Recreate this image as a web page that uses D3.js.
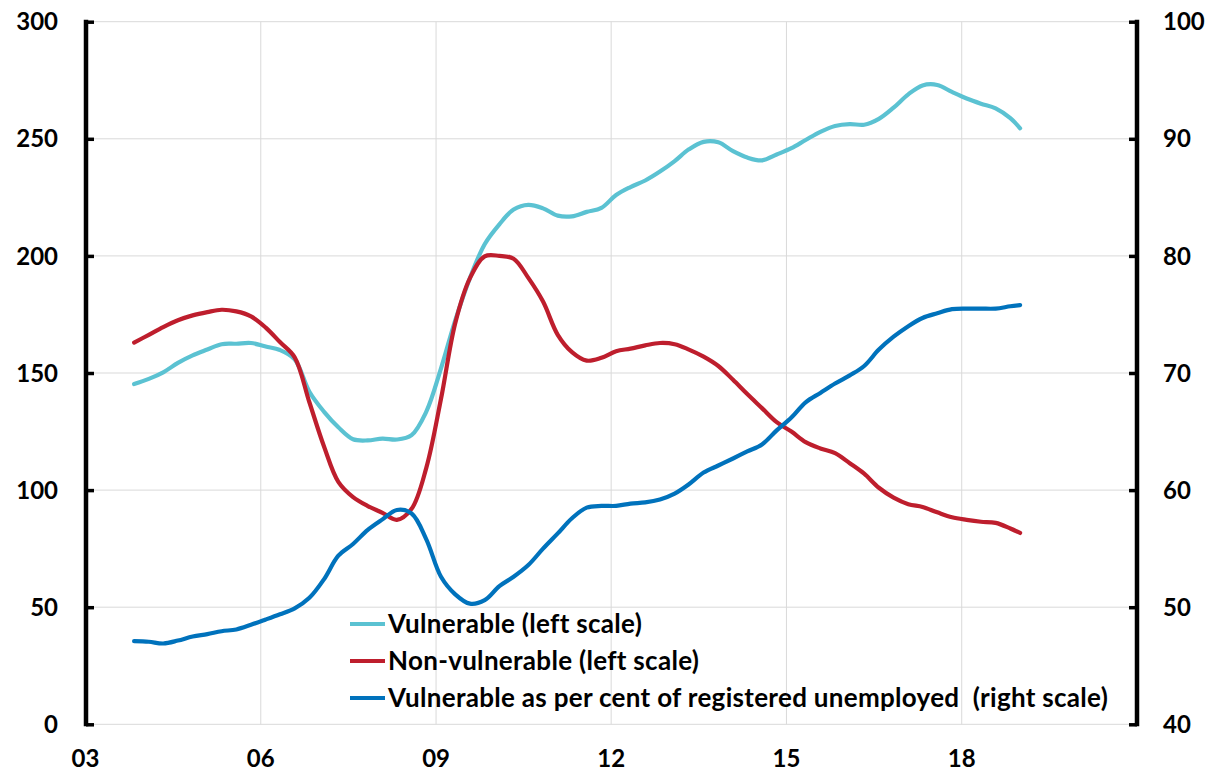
<!DOCTYPE html>
<html>
<head>
<meta charset="utf-8">
<script src="https://cdn.jsdelivr.net/npm/d3@7"></script>
<style>
  html, body { margin: 0; padding: 0; background: #fff; }
  svg { display: block; }
  text { font-family: Lato, "Open Sans", sans-serif; font-weight: 700; fill: #000; }
</style>
</head>
<body>
<svg id="chart" width="1212" height="771"></svg>
<script>
// Quarterly observation dates (YYYY-MM)
const dates = [
  "2003-11","2004-02","2004-05","2004-08","2004-11","2005-02","2005-05","2005-08","2005-11",
  "2006-02","2006-05","2006-08","2006-11","2007-02","2007-05","2007-08","2007-11",
  "2008-02","2008-05","2008-08","2008-11","2009-02","2009-05","2009-08","2009-11",
  "2010-02","2010-05","2010-08","2010-11","2011-02","2011-05","2011-08","2011-11",
  "2012-02","2012-05","2012-08","2012-11","2013-02","2013-05","2013-08","2013-11",
  "2014-02","2014-05","2014-08","2014-11","2015-02","2015-05","2015-08","2015-11",
  "2016-02","2016-05","2016-08","2016-11","2017-02","2017-05","2017-08","2017-11",
  "2018-02","2018-05","2018-08","2018-11","2019-01"
];

// Vulnerable (thousands, left scale)
const vulnerable = [
  145.3,147.5,150.3,154.3,157.5,160.0,162.3,162.5,162.8,
  161.3,159.8,155.8,142.0,133.4,126.8,121.7,121.2,
  122.0,121.6,123.5,133.5,152.0,172.5,190.6,205.0,
  213.5,219.8,221.8,220.3,217.2,216.9,218.8,220.5,
  226.0,229.4,232.2,236.0,240.5,245.5,248.7,248.5,
  244.7,242.0,240.8,243.3,246.0,249.5,253.0,255.5,
  256.3,256.0,258.5,263.3,269.0,272.8,273.0,270.0,
  267.2,265.0,263.0,258.8,254.5
];

// Non-vulnerable (thousands, left scale)
const nonVulnerable = [
  163.0,166.3,169.6,172.5,174.6,176.0,177.0,176.3,174.2,
  169.4,163.2,156.7,137.5,118.5,103.5,97.0,93.2,
  90.3,87.3,92.0,109.5,139.0,171.3,190.5,199.8,
  200.0,198.8,190.6,180.5,166.3,158.9,155.3,156.5,
  159.3,160.4,161.8,162.8,162.3,160.0,157.0,153.0,
  147.1,141.0,135.0,129.0,125.0,120.5,117.8,115.8,
  111.5,107.0,101.0,96.8,94.0,92.8,90.5,88.4,
  87.3,86.5,86.0,83.6,81.7
];

// Vulnerable as per cent of registered unemployed (right scale)
const vulnerableShare = [
  47.1,47.05,46.9,47.15,47.5,47.7,47.95,48.1,48.5,
  48.95,49.4,49.9,50.8,52.4,54.4,55.4,56.6,
  57.5,58.3,58.0,55.8,52.6,51.1,50.3,50.6,
  51.8,52.6,53.6,55.0,56.3,57.6,58.5,58.65,
  58.65,58.85,58.95,59.2,59.7,60.5,61.5,62.1,
  62.7,63.3,63.9,65.1,66.2,67.5,68.3,69.1,
  69.8,70.6,72.0,73.1,74.0,74.7,75.1,75.45,
  75.5,75.5,75.5,75.7,75.8
];

const leftTicks = [0, 50, 100, 150, 200, 250, 300];
const rightTicks = [40, 50, 60, 70, 80, 90, 100];
const yearTicks = ["2003", "2006", "2009", "2012", "2015", "2018"];

const seriesNames = [
  "Vulnerable (left scale)",
  "Non-vulnerable (left scale)",
  "Vulnerable as per cent of registered unemployed  (right scale)"
];
const seriesColors = ["#5bc2d2", "#be1e2d", "#0072bc"];

const parseMonth = d3.timeParse("%Y-%m");
const parseYear = d3.timeParse("%Y");

const svg = d3.select("#chart");
const plot = { left: 86, right: 1137, top: 21.7, bottom: 724.3 };

const x = d3.scaleTime()
  .domain([parseYear("2003"), parseYear("2021")])
  .range([plot.left - 0.5, plot.right]);
const yLeft = d3.scaleLinear().domain([0, 300]).range([plot.bottom, plot.top]);
const yRight = d3.scaleLinear().domain([40, 100]).range([plot.bottom, plot.top]);

// Gridlines
const grid = svg.append("g").attr("stroke", "#d9d9d9").attr("stroke-width", 1);
grid.selectAll("line.h").data(leftTicks).join("line")
  .attr("x1", plot.left).attr("x2", plot.right)
  .attr("y1", d => yLeft(d)).attr("y2", d => yLeft(d));
grid.selectAll("line.v").data(yearTicks.slice(1)).join("line")
  .attr("x1", d => x(parseYear(d))).attr("x2", d => x(parseYear(d)))
  .attr("y1", plot.top).attr("y2", plot.bottom);

// Series lines
const points = dates.map(parseMonth);
const lineLeft = d3.line().x((d, i) => x(points[i])).y(d => yLeft(d)).curve(d3.curveCatmullRom.alpha(0.5));
const lineRight = d3.line().x((d, i) => x(points[i])).y(d => yRight(d)).curve(d3.curveCatmullRom.alpha(0.5));

const lines = svg.append("g").attr("fill", "none").attr("stroke-width", 4.2)
  .attr("stroke-linecap", "round").attr("stroke-linejoin", "round");
lines.append("path").attr("d", lineLeft(vulnerable)).attr("stroke", seriesColors[0]);
lines.append("path").attr("d", lineLeft(nonVulnerable)).attr("stroke", seriesColors[1]);
lines.append("path").attr("d", lineRight(vulnerableShare)).attr("stroke", seriesColors[2]);

// Left axis
const leftAxis = svg.append("g")
  .attr("transform", `translate(${plot.left},0)`)
  .call(d3.axisRight(yLeft).tickValues(leftTicks).tickSize(8).tickFormat(""));
leftAxis.select(".domain").remove();
leftAxis.selectAll(".tick line").attr("stroke", "#000").attr("stroke-width", 3.5);
leftAxis.append("line").attr("x1", 0).attr("x2", 0)
  .attr("y1", plot.top - 2).attr("y2", plot.bottom + 2)
  .attr("stroke", "#000").attr("stroke-width", 4.5);
svg.append("g").selectAll("text").data(leftTicks).join("text")
  .attr("x", 58).attr("y", d => yLeft(d)).attr("dy", "0.36em")
  .attr("text-anchor", "end").attr("font-size", 24).text(d => d);

// Right axis
const rightAxis = svg.append("g")
  .attr("transform", `translate(${plot.right},0)`)
  .call(d3.axisLeft(yRight).tickValues(rightTicks).tickSize(8).tickFormat(""));
rightAxis.select(".domain").remove();
rightAxis.selectAll(".tick line").attr("stroke", "#000").attr("stroke-width", 3.5);
rightAxis.append("line").attr("x1", 0).attr("x2", 0)
  .attr("y1", plot.top - 2).attr("y2", plot.bottom + 2)
  .attr("stroke", "#000").attr("stroke-width", 4.5);
svg.append("g").selectAll("text").data(rightTicks).join("text")
  .attr("x", 1163).attr("y", d => yRight(d)).attr("dy", "0.36em")
  .attr("text-anchor", "start").attr("font-size", 24).text(d => d);

// Year labels
const fmtYear = d3.timeFormat("%y");
svg.append("g").selectAll("text").data(yearTicks).join("text")
  .attr("x", d => x(parseYear(d))).attr("y", 767)
  .attr("text-anchor", "middle").attr("font-size", 24)
  .text(d => fmtYear(parseYear(d)));

// Legend
const legend = svg.append("g").attr("transform", "translate(350,624)");
const rows = legend.selectAll("g").data(seriesNames).join("g")
  .attr("transform", (d, i) => `translate(0,${i * 37})`);
rows.append("line").attr("x1", 0).attr("x2", 35).attr("y1", 0).attr("y2", 0)
  .attr("stroke", (d, i) => seriesColors[i]).attr("stroke-width", 4.2);
rows.append("text").attr("x", 38).attr("y", 0).attr("dy", "0.34em")
  .attr("font-size", 26).attr("letter-spacing", 0.3)
  .style("white-space", "pre").text(d => d);
</script>
</body>
</html>
